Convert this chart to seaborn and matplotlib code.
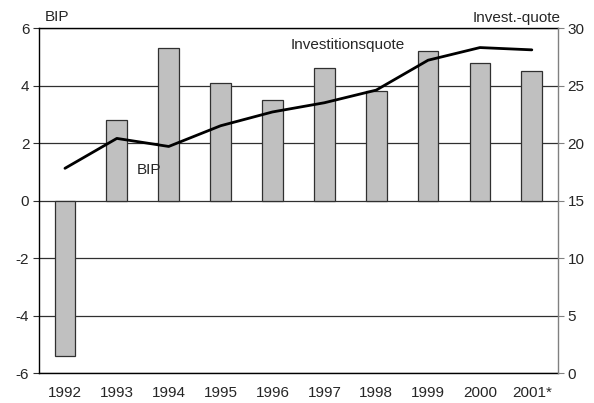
import matplotlib
matplotlib.use("Agg")
import matplotlib.pyplot as plt
import seaborn as sns
import pandas as pd

years = ["1992", "1993", "1994", "1995", "1996", "1997", "1998", "1999", "2000", "2001*"]
bip = [-5.4, 2.8, 5.3, 4.1, 3.5, 4.6, 3.8, 5.2, 4.8, 4.5]
invest = [17.8, 20.4, 19.7, 21.5, 22.7, 23.5, 24.6, 27.2, 28.3, 28.1]
left_ticks = [-6, -4, -2, 0, 2, 4, 6]
right_ticks = [0, 5, 10, 15, 20, 25, 30]

sns.set_theme(style="white")
plt.rcParams['font.family'] = ['Liberation Sans', 'DejaVu Sans']
plt.rcParams['axes.unicode_minus'] = False
fs = 11

df = pd.DataFrame({"Jahr": years, "BIP": bip, "Invest": invest})

fig = plt.figure(figsize=(5.94, 4.03), dpi=100)
ax = fig.add_axes([0.0657, 0.0744, 0.8733, 0.8561])

for t in left_ticks:
    ax.axhline(t, color="#303030", lw=0.9, zorder=0)

sns.barplot(data=df, x="Jahr", y="BIP", ax=ax, color="#c0c0c0", width=0.4,
            edgecolor="#303030", linewidth=0.9, saturation=1, zorder=2)
ax.set_xlim(-0.5, len(years) - 0.5)
ax.set_ylim(-6, 6)
ax.set_yticks(left_ticks)
ax.set_xlabel("")
ax.set_ylabel("")
ax.tick_params(axis="y", length=4, width=0.8, color="#303030", labelsize=fs, pad=3, direction="out", left=True)
ax.tick_params(axis="x", length=0, labelsize=fs, pad=9)
for s in ["left", "bottom", "top"]:
    ax.spines[s].set_color("#000000")
    ax.spines[s].set_linewidth(1.0)
ax.spines["right"].set_visible(False)

ax2 = ax.twinx()
sns.lineplot(x=list(range(len(years))), y=invest, ax=ax2, color="black", lw=2.0, zorder=3)
ax2.set_ylim(0, 30)
ax2.set_yticks(right_ticks)
ax2.tick_params(axis="y", length=4, width=0.8, color="#808080", labelsize=fs, pad=3, direction="out", right=True)
for s in ["left", "bottom", "top"]:
    ax2.spines[s].set_visible(False)
ax2.spines["right"].set_color("#808080")
ax2.spines["right"].set_linewidth(1.0)
ax2.set_ylabel("")

fig.text(45 / 594, 1 - 17 / 403, "BIP", fontsize=fs, va="center", ha="left")
fig.text(561 / 594, 1 - 18 / 403, "Invest.-quote", fontsize=fs, va="center", ha="right")
ax.text(4.35, 5.41, "Investitionsquote", fontsize=fs, va="center", ha="left", zorder=5)
ax.text(1.39, 1.06, "BIP", fontsize=fs, va="center", ha="left", zorder=5)

fig.savefig("out.png", dpi=100)
